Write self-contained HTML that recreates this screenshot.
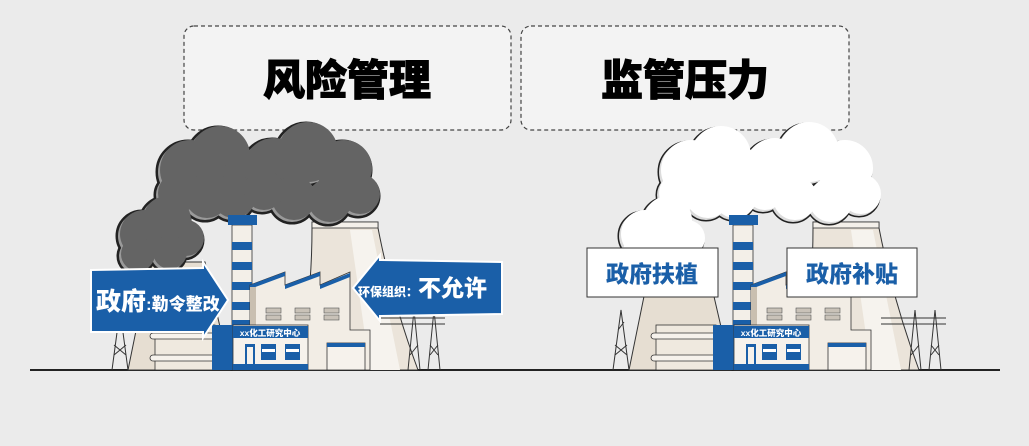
<!DOCTYPE html>
<html><head><meta charset="utf-8"><style>
html,body{margin:0;padding:0;background:#ebebeb;}
svg{display:block}
text{font-family:"Liberation Sans","Noto Sans CJK SC",sans-serif;font-weight:900}
</style></head><body>
<svg width="1029" height="446" viewBox="0 0 1029 446" xmlns="http://www.w3.org/2000/svg">
<rect width="1029" height="446" fill="#ebebeb"/>
<rect x="184" y="26" width="327" height="104" rx="10" fill="#f3f3f3" stroke="#444" stroke-width="1.2" stroke-dasharray="4,3"/>
<rect x="521" y="26" width="328" height="104" rx="10" fill="#f3f3f3" stroke="#444" stroke-width="1.2" stroke-dasharray="4,3"/>
<text x="347" y="95" font-size="42" text-anchor="middle" fill="#000" stroke="#000" stroke-width="1">风险管理</text>
<text x="685" y="95" font-size="42" text-anchor="middle" fill="#000" stroke="#000" stroke-width="1">监管压力</text>

<defs>
<g id="towers">
  <path d="M150 262 L205 262 L230 370 L128 370 Z" fill="#e6ded2" stroke="#333" stroke-width="1"/>
  <path d="M312 222 L378 222 L378 228 Q392 300 418 370 L298 370 Q312 300 312 228 Z" fill="#ebe4da" stroke="#333" stroke-width="1"/>
  <rect x="312" y="222" width="66" height="6" fill="#f4f0ea" stroke="#333" stroke-width="0.8"/>
  <path d="M350 230 L372 230 L400 370 L370 370 Z" fill="#f6f3ee"/>
  <g stroke="#333" stroke-width="1" fill="none">
    <path d="M112 370 L120 310 L128 370 M114 355 L126 345 M114 345 L126 355 M117 330 L123 322"/>
    <path d="M408 370 L414 310 L420 370 M410 355 L418 345"/>
    <path d="M428 370 L434 310 L440 370 M430 355 L438 345 M430 345 L438 355"/>
    <path d="M380 318 L445 318 M380 324 L445 324"/>
  </g>
  <rect x="232" y="225" width="20" height="115" fill="#f3efe8" stroke="#333" stroke-width="0.8"/>
  <g fill="#1a5fa8">
    <rect x="228" y="215" width="29" height="10"/>
    <rect x="232" y="242" width="20" height="8"/>
    <rect x="232" y="262" width="20" height="8"/>
    <rect x="232" y="282" width="20" height="8"/>
    <rect x="232" y="302" width="20" height="8"/>
    <rect x="232" y="320" width="20" height="8"/>
  </g>
  <rect x="155" y="325" width="60" height="45" fill="#efe9df" stroke="#333" stroke-width="0.8"/>
  <rect x="150" y="333" width="65" height="6" rx="3" fill="#f6f2ec" stroke="#333" stroke-width="0.8"/>
  <rect x="150" y="355" width="65" height="6" rx="3" fill="#f6f2ec" stroke="#333" stroke-width="0.8"/>
  <path d="M250 285 L285 272 L285 285 L320 272 L320 285 L350 272 L350 330 L370 330 L370 370 L250 370 Z" fill="#f2ede5" stroke="#333" stroke-width="0.8"/>
  <path d="M250 285 L285 272 L285 276 L250 289 Z M285 285 L320 272 L320 276 L285 289 Z M320 285 L350 273 L350 277 L320 289 Z" fill="#1a5fa8"/>
  <rect x="250" y="287" width="6" height="60" fill="#c9bfb0"/>
  <g fill="#c9c2b8" stroke="#555" stroke-width="0.6">
    <rect x="266" y="308" width="15" height="5"/><rect x="266" y="315" width="15" height="5"/>
    <rect x="295" y="308" width="15" height="5"/><rect x="295" y="315" width="15" height="5"/>
    <rect x="324" y="308" width="15" height="5"/><rect x="324" y="315" width="15" height="5"/>
  </g>
  <rect x="327" y="343" width="38" height="27" fill="#f6f2ec" stroke="#333" stroke-width="0.8"/>
  <rect x="327" y="343" width="38" height="4" fill="#1a5fa8"/>
  <rect x="212" y="325" width="22" height="45" fill="#1a5fa8"/>
  <rect x="233" y="325" width="75" height="45" fill="#f6f2ec" stroke="#333" stroke-width="0.8"/>
  <rect x="233" y="326" width="75" height="12" fill="#1a5fa8"/>
  <text x="270" y="336" font-size="8.5" fill="#fff" text-anchor="middle">xx化工研究中心</text>
  <rect x="245" y="344" width="10" height="26" fill="#1a5fa8"/><rect x="247" y="347" width="6" height="23" fill="#f6f2ec"/>
  <rect x="261" y="344" width="15" height="16" fill="#1a5fa8"/><rect x="285" y="344" width="15" height="16" fill="#1a5fa8"/>
  <rect x="262" y="349" width="13" height="3" fill="#fff"/><rect x="286" y="349" width="13" height="3" fill="#fff"/>
  <rect x="233" y="364" width="75" height="6" fill="#1a5fa8"/>
</g>
<g id="cloudshape">
  <circle cx="142" cy="236" r="24"/><circle cx="165" cy="222" r="24"/><circle cx="184" cy="240" r="18"/><circle cx="136" cy="256" r="17"/><circle cx="168" cy="254" r="17"/>
  <circle cx="188" cy="172" r="30"/><circle cx="218" cy="158" r="30"/><circle cx="246" cy="176" r="24"/><circle cx="176" cy="195" r="20"/><circle cx="232" cy="198" r="22"/><circle cx="205" cy="198" r="22"/>
  <circle cx="272" cy="170" r="30"/><circle cx="306" cy="154" r="30"/><circle cx="342" cy="170" r="28"/><circle cx="358" cy="196" r="20"/><circle cx="292" cy="200" r="22"/><circle cx="328" cy="202" r="22"/><circle cx="262" cy="192" r="20"/>
</g>
</defs>

<line x1="30" y1="370" x2="1000" y2="370" stroke="#222" stroke-width="2"/>

<use href="#towers"/>
<g fill="#222" stroke="#222" stroke-width="5"><use href="#cloudshape"/></g>
<g fill="#9a9a9a"><use href="#cloudshape"/></g>
<g fill="#646464" transform="translate(2,-2)"><use href="#cloudshape"/></g>
<rect x="228" y="215" width="29" height="10" fill="#1a5fa8"/>

<path d="M91 270 L203 268 L203 262 L228 300 L203 338 L203 332 L91 332 Z" fill="#1a5fa8" stroke="#fff" stroke-width="2"/>
<text x="96" y="310" font-size="25" fill="#fff">政府<tspan font-size="17">:勒令整改</tspan></text>
<path d="M502 262 L380 260 L380 255 L353 288 L380 321 L380 316 L502 314 Z" fill="#1a5fa8" stroke="#fff" stroke-width="2"/>
<text x="358" y="296" font-size="12" fill="#fff">环保组织：<tspan font-size="23">不允许</tspan></text>

<g transform="translate(501,0)">
  <use href="#towers"/>
  <g fill="#222" stroke="#222" stroke-width="3"><use href="#cloudshape"/></g>
  <g fill="#dcdcdc"><use href="#cloudshape"/></g>
  <g fill="#ffffff" transform="translate(2,-2)"><use href="#cloudshape"/></g>
  <rect x="228" y="215" width="29" height="10" fill="#1a5fa8"/>
</g>
<rect x="587" y="248" width="131" height="49" fill="#fff" stroke="#333" stroke-width="1"/>
<text x="652" y="282" font-size="23" fill="#1a5fa8" text-anchor="middle">政府扶植</text>
<rect x="787" y="248" width="130" height="49" fill="#fff" stroke="#333" stroke-width="1"/>
<text x="852" y="282" font-size="23" fill="#1a5fa8" text-anchor="middle">政府补贴</text>
</svg>
</body></html>
